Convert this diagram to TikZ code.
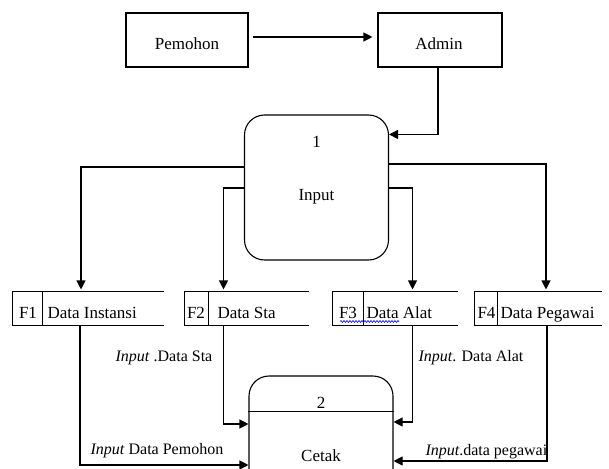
\documentclass[tikz,border=0pt]{standalone}
\usepackage{fontspec}
\setmainfont{Liberation Serif}
\usetikzlibrary{arrows.meta,decorations.pathmorphing}

\begin{document}
\begin{tikzpicture}[x=1pt, y=-1pt, line width=1.1pt,
	font=\fontsize{17}{20}\selectfont,
	entity/.style={draw, rectangle, minimum height=54pt, inner sep=0pt},
	proc/.style={draw, rectangle, rounded corners=20pt, minimum width=144pt, inner sep=0pt},
	store/.style={rectangle, minimum height=33pt, inner sep=0pt},
	flow/.style={-{Triangle[length=9pt,width=9pt]}},
	lbl/.style={font=\fontsize{16}{19}\selectfont, inner sep=0pt, anchor=base west}]
	\clip (0,0) rectangle (609,468);
	% external entities
	\node (pemohon) [entity, minimum width=122pt] at (187,40) {};
	\node (admin) [entity, minimum width=124pt] at (440,40) {};
	\node (pemohontxt) [anchor=base] at (187,50) {Pemohon};
	\node (admintxt) [anchor=base] at (439,50) {Admin};
	% processes
	\node (input) [proc, minimum height=145pt] at (316.5,187.5) {};
	\node (inputno) [anchor=base] at (316.5,147) {1};
	\node (inputname) [anchor=base] at (316.5,200) {Input};
	\node (cetak) [proc, minimum height=120pt] at (321,436) {};
	\draw ([yshift=-36pt]cetak.north west) -- ([yshift=-36pt]cetak.north east);
	\node (cetakno) [anchor=base] at (321,408) {2};
	\node (cetakname) [anchor=base] at (321,461) {Cetak};
	% data stores
	\node (f1) [store, minimum width=150pt] at (88,308.5) {};
	\draw (f1.north east) -- (f1.north west) -- (f1.south west) -- (f1.south east);
	\draw ([xshift=30pt]f1.north west) -- ([xshift=30pt]f1.south west);
	\node (f1id) [anchor=base] at (28,318) {F1};
	\node (f1name) [anchor=base west, inner sep=0pt] at (47,318) {Data Instansi};
	\node (f2) [store, minimum width=123pt] at (246.5,308.5) {};
	\draw (f2.north east) -- (f2.north west) -- (f2.south west) -- (f2.south east);
	\draw ([xshift=24pt]f2.north west) -- ([xshift=24pt]f2.south west);
	\node (f2id) [anchor=base] at (196,318) {F2};
	\node (f2name) [anchor=base west, inner sep=0pt] at (217,318) {Data Sta};
	\node (f3) [store, minimum width=124pt] at (395,308.5) {};
	\draw (f3.north east) -- (f3.north west) -- (f3.south west) -- (f3.south east);
	\draw ([xshift=31pt]f3.north west) -- ([xshift=31pt]f3.south west);
	\node (f3id) [anchor=base] at (348,318) {F3};
	\node (f3name) [anchor=base west, inner sep=0pt] at (366,318) {Data Alat};
	\draw[blue, line width=0.6pt, decorate, decoration={snake, amplitude=1pt, segment length=3pt}]
		(340,321.5) -- (399,321.5);
	\node (f4) [store, minimum width=126pt] at (538,308.5) {};
	\draw (f4.north east) -- (f4.north west) -- (f4.south west) -- (f4.south east);
	\draw ([xshift=23pt]f4.north west) -- ([xshift=23pt]f4.south west);
	\node (f4id) [anchor=base] at (486.5,318) {F4};
	\node (f4name) [anchor=base west, inner sep=0pt] at (500,318) {Data Pegawai};
	% flows
	\draw[flow, shorten <=4pt, shorten >=5pt] ([yshift=3pt]pemohon.east) -- ([yshift=3pt]admin.west);
	\draw[flow] ([xshift=-2pt]admin.south) |- ([yshift=-20pt]input.north east);
	\draw[flow, shorten >=2pt] ([yshift=20.5pt]input.west) -| ([xshift=-7pt]f1.north);
	\draw[flow, shorten >=2pt] ([yshift=-0.5pt]input.west) -| ([xshift=-23pt]f2.north);
	\draw[flow, shorten >=2pt] ([yshift=-0.5pt]input.east) -| ([xshift=17.5pt]f3.north);
	\draw[flow, shorten >=2pt] ([yshift=23.5pt]input.east) -| ([xshift=8pt]f4.north);
	\draw[flow] ([xshift=-8pt]f1.south) |- ([yshift=-29pt]cetak.west);
	\draw[flow] ([xshift=-23pt]f2.south) |- ([yshift=12pt]cetak.west);
	\draw[flow] ([xshift=17.5pt]f3.south) |- ([yshift=14pt]cetak.east);
	\draw[flow] ([xshift=9pt]f4.south) |- ([yshift=-25pt]cetak.east);
	% flow labels
	\node (lblsta) [lbl] at (115,361) {\textit{Input} .Data Sta};
	\node (lblpemohon) [lbl] at (90,454) {\textit{Input} Data Pemohon};
	\node (lblalat) [lbl] at (418,361) {\textit{Input}. Data Alat};
	\node (lblpegawai) [lbl] at (425,455) {\textit{Input}.data pegawai};
\end{tikzpicture}
\end{document}
